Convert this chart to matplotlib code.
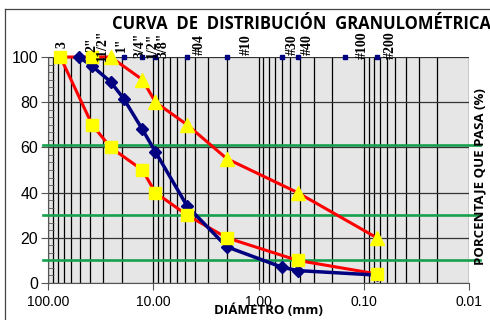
import matplotlib
matplotlib.use("Agg")
import matplotlib.pyplot as plt
from matplotlib.lines import Line2D
from matplotlib.ticker import FixedLocator, FuncFormatter, LogLocator, NullFormatter

# sieve openings (mm) and their labels
sieve_labels = ['3', '2"', '11/2"', '1"', '3/4"', '1/2"', '3/8"',
                '#04', '#10', '#30', '#40', '#100', '#200']
sieve_mm = [76.2, 50.8, 38.1, 25.4, 19.05, 12.7, 9.525,
            4.76, 2.0, 0.6, 0.425, 0.15, 0.075]

# sample gradation (blue)
sample_mm = [50.8, 38.1, 25.4, 19.05, 12.7, 9.525, 4.76, 2.0, 0.6, 0.425, 0.075]
sample_pass = [100, 96, 89, 81.5, 68, 58, 34, 16, 7, 5.5, 3.5]

# specification band (red)
lower_mm = [76.2, 38.1, 25.4, 12.7, 9.525, 4.76, 2.0, 0.425, 0.075]
lower_pass = [100, 70, 60, 50, 40, 30, 20, 10, 4]
upper_mm = [76.2, 38.1, 25.4, 12.7, 9.525, 4.76, 2.0, 0.425, 0.075]
upper_pass = [100, 100, 100, 90, 80, 70, 55, 40, 20]

# D10 / D30 / D60 reference levels
ref_levels = [10, 30, 61]

W, H = 490, 320
fig = plt.figure(figsize=(W / 100, H / 100), dpi=100)
ax = fig.add_axes([48 / W, 1 - 283 / H, 421 / W, 226 / H])
ax.set_facecolor('#e6e6e6')

ax.set_xscale('log')
ax.set_xlim(100, 0.01)
ax.set_ylim(0, 100)

# grid: every log subdivision vertically, 20% horizontally
ax.xaxis.set_major_locator(LogLocator(base=10, numticks=10))
ax.xaxis.set_minor_locator(LogLocator(base=10, subs=range(2, 10), numticks=20))
ax.xaxis.set_minor_formatter(NullFormatter())
ax.xaxis.set_major_formatter(FuncFormatter(lambda v, p: f'{v:.2f}'))
ax.set_yticks(range(0, 101, 20))
ax.yaxis.set_minor_locator(FixedLocator([v * 20 / 6 for v in range(31)]))
ax.grid(True, which='both', axis='x', color='black', lw=0.9)
ax.grid(True, which='major', axis='y', color='#333333', lw=0.9)
ax.set_axisbelow(True)

for s in ['top', 'right']:
    ax.spines[s].set_visible(False)
for s in ['left', 'bottom']:
    ax.spines[s].set_color('#555555')
ax.tick_params(axis='both', which='major', length=5, color='#555555')
ax.tick_params(axis='x', which='major', labelsize=10, pad=4)
ax.tick_params(axis='y', which='major', labelsize=11.5, pad=2)
ax.tick_params(axis='x', which='minor', length=0)
ax.tick_params(axis='y', which='minor', direction='in', length=4, color='#555555')
for t in ax.get_xticklabels() + ax.get_yticklabels():
    t.set_fontfamily('Liberation Sans')

for lv in ref_levels:
    ax.axhline(lv, xmin=-0.012, xmax=1.026, color='#16a04e', lw=1.9,
               clip_on=False, zorder=3)

# sieve markers along the top
ax.plot(sieve_mm, [100] * len(sieve_mm), 's', color='#000080', ms=3.5,
        zorder=4, clip_on=False)

ax.plot(lower_mm, lower_pass, '-', color='red', lw=2.2, zorder=4, clip_on=False)
ax.plot(upper_mm, upper_pass, '-', color='red', lw=2.2, zorder=4, clip_on=False)

ax.plot(sample_mm, sample_pass, '-D', color='#000080', lw=2.5, ms=6,
        zorder=5, clip_on=False)

ax.plot(lower_mm, lower_pass, 's', color='#ffff00', ms=9, zorder=6, clip_on=False)
ax.plot(upper_mm[1:2], upper_pass[1:2], 's', color='#ffff00', ms=9, zorder=6,
        clip_on=False)
ax.plot(upper_mm[2:], upper_pass[2:], '^', color='#ffff00', ms=10, zorder=6,
        clip_on=False)

# sieve labels above the plot
label_dx = [2, 13, 10, 11, 16, 10, 8, 12, 19, 10, 10, 17, 13]
for lbl, x, dx in zip(sieve_labels, sieve_mm, label_dx):
    ax.annotate(lbl, (x, 100), xytext=(dx * 0.72, 12 * 0.72),
                textcoords='offset points', rotation=90, ha='center',
                va='center', fontsize=10, fontweight='bold',
                fontfamily='Liberation Serif', annotation_clip=False, zorder=7)

fig.text(301 / W, 1 - 24 / H, 'CURVA  DE  DISTRIBUCIÓN  GRANULOMÉTRICA',
         ha='center', va='center', fontsize=12, fontweight='bold',
         fontfamily='Open Sans')
fig.text(268 / W, 1 - 310 / H, 'DIÁMETRO (mm)', ha='center', va='center',
         fontsize=9.5, fontweight='bold', fontfamily='Open Sans')
fig.text(480 / W, 1 - 177 / H, 'PORCENTAJE QUE PASA (%)', ha='center',
         va='center', rotation=90, fontsize=9.5, fontweight='bold',
         fontfamily='Open Sans')

# chart frame (top and left edges visible in the crop)
fig.add_artist(Line2D([5 / W, 5 / W], [0, 1 - 9 / H], color='#444444', lw=0.9))
fig.add_artist(Line2D([5 / W, 1], [1 - 9 / H, 1 - 9 / H], color='#444444', lw=0.9))

fig.savefig('out.png', dpi=100)
